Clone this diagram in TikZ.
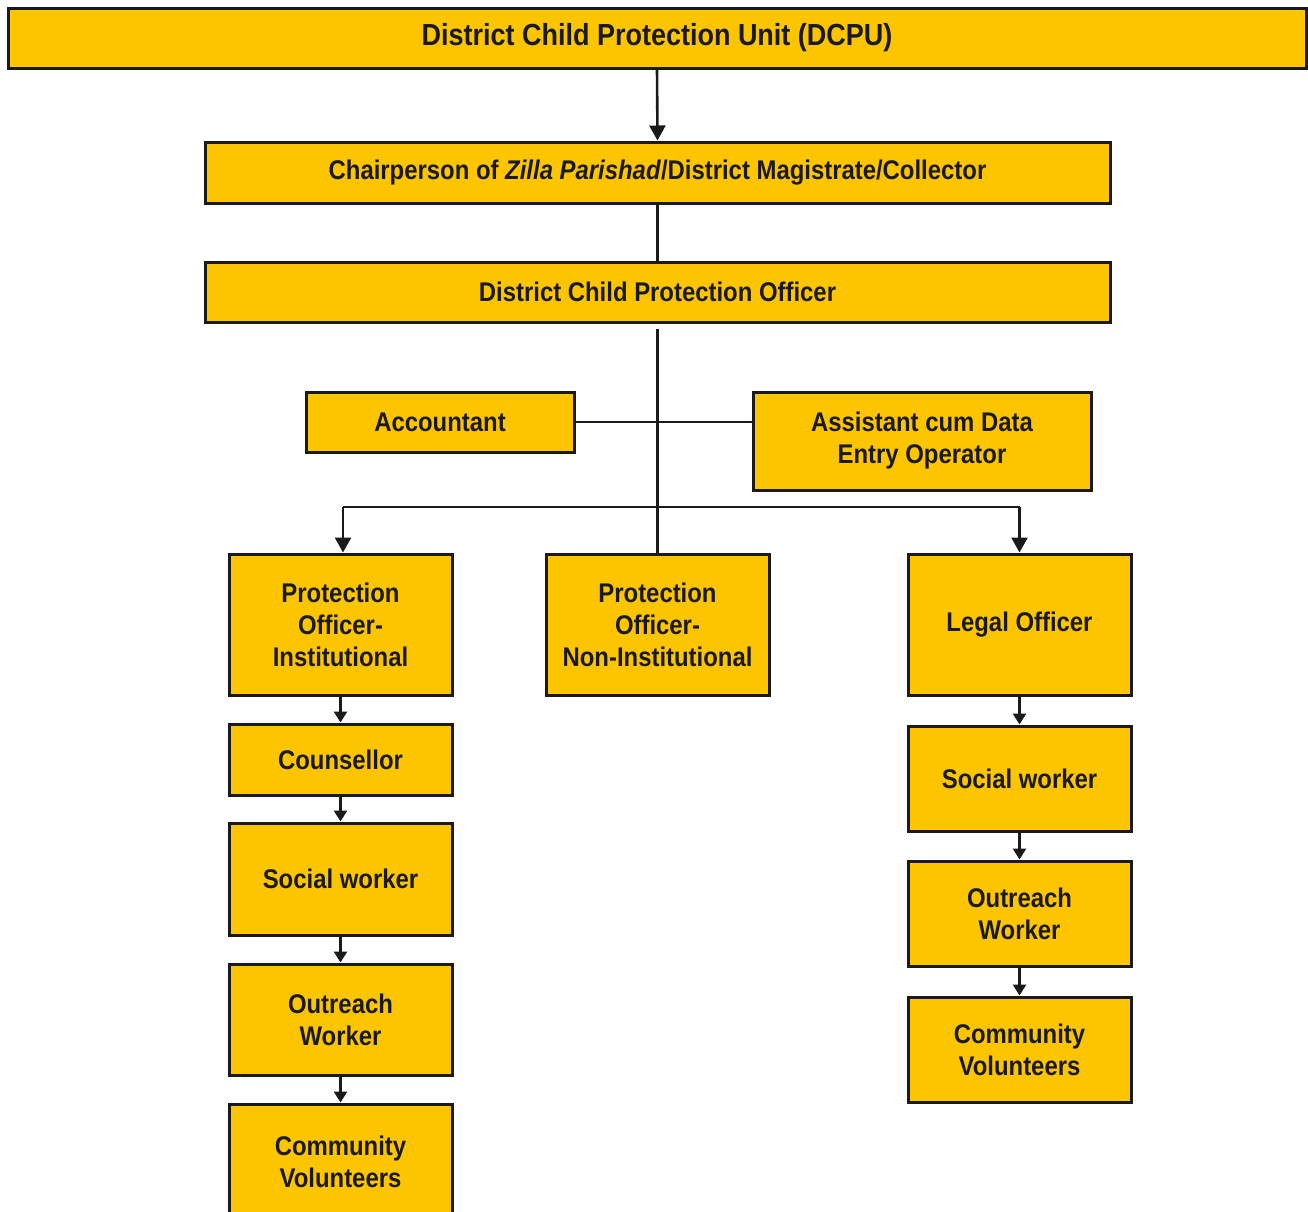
\documentclass[tikz,border=0pt]{standalone}
\usepackage{fontspec}
\setmainfont[FakeStretch=0.885]{Liberation Sans}
\usetikzlibrary{arrows.meta}
\definecolor{boxfill}{HTML}{FCC500}
\definecolor{ink}{HTML}{1A1A1A}
\begin{document}
\begin{tikzpicture}[x=1pt,y=-1pt,
  box/.style={draw=ink,fill=boxfill,line width=3pt,rectangle,inner sep=0pt,
    align=center,text=ink,font=\fontsize{27}{32}\selectfont\bfseries},
  conn/.style={draw=ink,line width=2.6pt},
  bigarrow/.style={conn,-{Triangle[width=16pt,length=15pt]}},
  smallarrow/.style={conn,-{Triangle[width=13pt,length=11pt]}}]
\useasboundingbox (0,0) rectangle (1308,1211);
\clip (0,0) rectangle (1308,1211);
% top levels
\node[box,minimum width=1298pt,minimum height=60pt,font=\fontsize{30.5}{36}\selectfont\bfseries] (dcpu) at (657,38) {District Child Protection Unit (DCPU)};
\node[box,minimum width=905pt,minimum height=61pt] (chair) at (657.5,172.5) {Chairperson of \textit{Zilla Parishad}/District Magistrate/Collector};
\node[box,minimum width=905pt,minimum height=60pt] (dcpo) at (657.5,292) {District Child Protection Officer};
\node[box,minimum width=268pt,minimum height=60pt] (acc) at (440,422) {Accountant};
\node[box,minimum width=338pt,minimum height=98pt] (asst) at (922,441) {Assistant cum Data\\Entry Operator};
% third level
\node[box,minimum width=223pt,minimum height=141pt] (poi) at (340.5,624.5) {Protection\\Officer-\\Institutional};
\node[box,minimum width=223pt,minimum height=141pt] (poni) at (657.5,624.5) {Protection\\Officer-\\Non-Institutional};
\node[box,minimum width=223pt,minimum height=141pt] (legal) at (1019.5,624.5) {Legal Officer};
% left column
\node[box,minimum width=223pt,minimum height=71pt] (couns) at (340.5,759.5) {Counsellor};
\node[box,minimum width=223pt,minimum height=112pt] (swl) at (340.5,879) {Social worker};
\node[box,minimum width=223pt,minimum height=111pt] (outl) at (340.5,1019.5) {Outreach\\Worker};
\node[box,minimum width=223pt,minimum height=115pt,text depth=0pt] (coml) at (340.5,1161.5) {Community\\Volunteers};
% right column
\node[box,minimum width=223pt,minimum height=105pt] (swr) at (1019.5,778.5) {Social worker};
\node[box,minimum width=223pt,minimum height=105pt] (outr) at (1019.5,913.5) {Outreach\\Worker};
\node[box,minimum width=223pt,minimum height=105pt] (comr) at (1019.5,1049.5) {Community\\Volunteers};
% connectors
\draw[bigarrow] (dcpu.south) -- (chair.north);
\draw[conn] (chair.south) -- (dcpo.north);
\coordinate (trunk) at ([yshift=-5pt]dcpo.south);
\draw[conn] (trunk) -- (poni.north);
\draw[conn] (acc.east) -- (acc.east -| asst.west);
\coordinate (bl) at (343,507);
\coordinate (br) at (1019.5,507);
\draw[conn] (bl) -- (br);
\draw[bigarrow] (bl) -- (bl |- poi.north);
\draw[bigarrow] (br) -- (legal.north);
\draw[smallarrow] (poi.south) -- (couns.north);
\draw[smallarrow] (couns.south) -- (swl.north);
\draw[smallarrow] (swl.south) -- (outl.north);
\draw[smallarrow] (outl.south) -- (coml.north);
\draw[smallarrow] (legal.south) -- (swr.north);
\draw[smallarrow] (swr.south) -- (outr.north);
\draw[smallarrow] (outr.south) -- (comr.north);
\end{tikzpicture}
\end{document}
